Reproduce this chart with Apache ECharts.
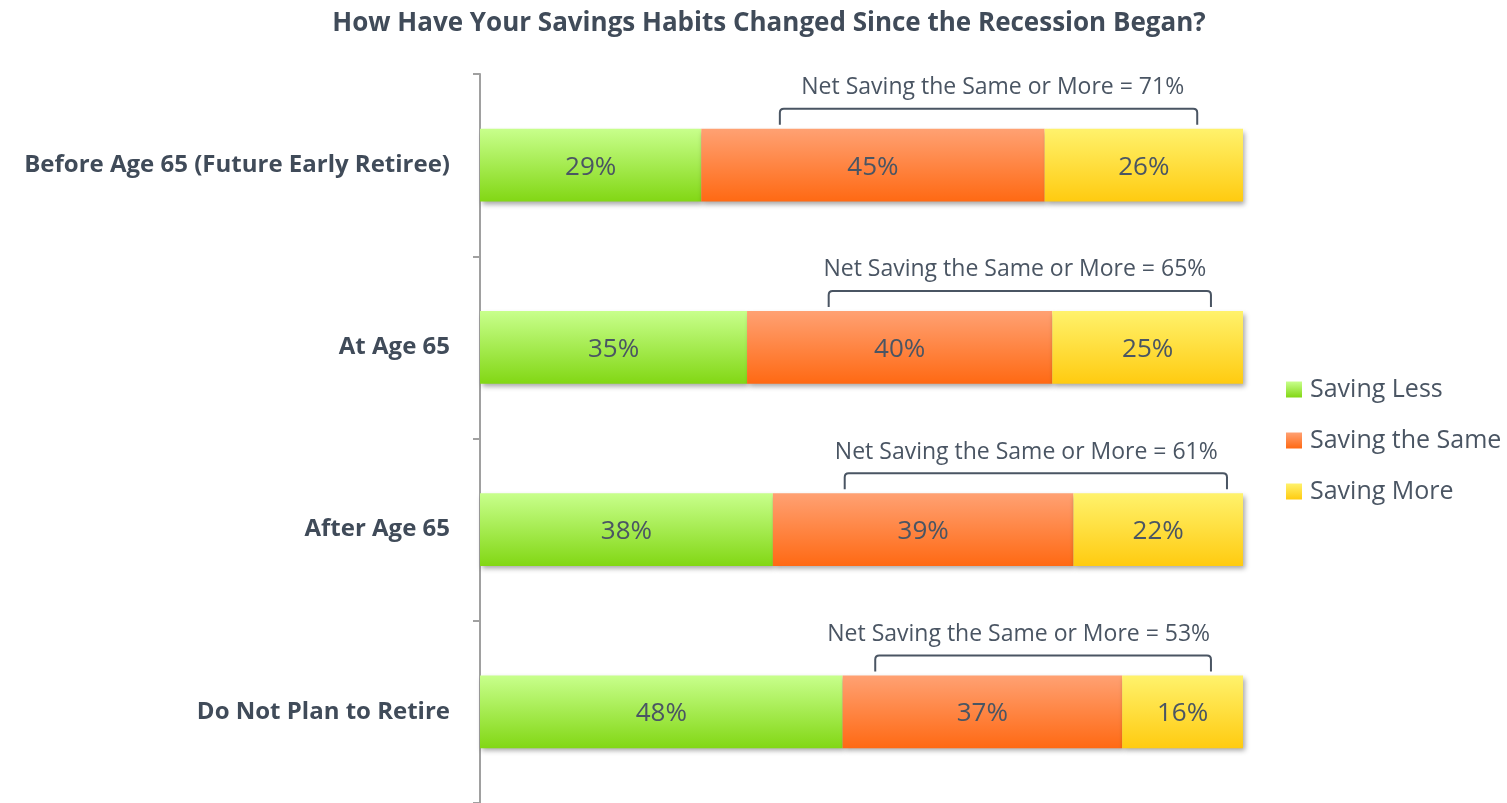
<!DOCTYPE html>
<html>
<head>
<meta charset="utf-8">
<script src="https://cdn.jsdelivr.net/npm/echarts@6/dist/echarts.min.js"></script>
<style>
html,body{margin:0;padding:0;background:#fff;}
#chart{width:1507px;height:803px;}
</style>
</head>
<body>
<div id="chart"></div>
<script>
const categories = ['Before Age 65 (Future Early Retiree)', 'At Age 65', 'After Age 65', 'Do Not Plan to Retire'];
const seriesNames = ['Saving Less', 'Saving the Same', 'Saving More'];
const savingLess = [29, 35, 38, 48];
const savingSame = [45, 40, 39, 37];
const savingMore = [26, 25, 22, 16];
const netTotals = [71, 65, 61, 53];
// bracket extents and note centres, in percent of the bar length
const bracketStart = [39.3, 45.7, 47.8, 51.8];
const bracketEnd = [94.0, 95.8, 97.9, 95.8];
const noteCenter = [67.2, 70.1, 71.6, 70.6];

const raw = [savingLess, savingSame, savingMore];
const rowSums = categories.map((c, i) => raw.reduce((s, arr) => s + arr[i], 0));

const FONT = "'Open Sans', sans-serif";
const TXT = '#4a5563';

function grad(top, bottom) {
  return new echarts.graphic.LinearGradient(0, 0, 0, 1, [
    { offset: 0, color: top }, { offset: 1, color: bottom }
  ]);
}
const colors = [
  grad('#c8ff8c', '#82d714'),
  grad('#ffa173', '#ff6913'),
  grad('#fff26c', '#ffcb10')
];

const barSeries = raw.map((arr, si) => ({
  name: seriesNames[si],
  type: 'bar',
  stack: 'total',
  barCategoryGap: '60%',
  data: arr.map((v, i) => v / rowSums[i] * 100),
  itemStyle: {
    color: colors[si],
    shadowColor: 'rgba(0,0,0,0.35)',
    shadowBlur: 5,
    shadowOffsetX: 2,
    shadowOffsetY: 3
  },
  label: {
    show: true,
    position: 'inside',
    offset: [0, 2],
    color: TXT,
    fontFamily: FONT,
    fontSize: 26,
    formatter: p => raw[si][p.dataIndex] + '%'
  },
  emphasis: { disabled: true }
}));

const noteData = categories.map((c, i) => [bracketStart[i], bracketEnd[i], i, noteCenter[i], netTotals[i]]);

const noteSeries = {
  type: 'custom',
  silent: true,
  encode: { x: [0, 1], y: 2 },
  data: noteData,
  z: 5,
  renderItem: function (params, api) {
    const s = api.coord([api.value(0), api.value(2)]);
    const e = api.coord([api.value(1), api.value(2)]);
    const tc = api.coord([api.value(3), api.value(2)]);
    const band = api.size([0, 1])[1];
    const barTop = s[1] - band * 0.4 / 2;
    const yLine = barTop - 20;
    const yEnd = barTop - 4;
    const r = 4;
    const x1 = s[0], x2 = e[0];
    const path = 'M' + x1 + ' ' + yEnd +
      ' L' + x1 + ' ' + (yLine + r) +
      ' Q' + x1 + ' ' + yLine + ' ' + (x1 + r) + ' ' + yLine +
      ' L' + (x2 - r) + ' ' + yLine +
      ' Q' + x2 + ' ' + yLine + ' ' + x2 + ' ' + (yLine + r) +
      ' L' + x2 + ' ' + yEnd;
    return {
      type: 'group',
      children: [
        {
          type: 'path',
          shape: { pathData: path },
          style: { fill: null, stroke: TXT, lineWidth: 2 }
        },
        {
          type: 'text',
          style: {
            x: tc[0], y: barTop - 41,
            text: 'Net Saving the Same or More = ' + api.value(4) + '%',
            fill: TXT,
            font: '23px ' + FONT,
            textAlign: 'center',
            textVerticalAlign: 'middle'
          }
        }
      ]
    };
  }
};

const chart = echarts.init(document.getElementById('chart'));
chart.setOption({
  backgroundColor: '#ffffff',
  animation: false,
  title: {
    text: 'How Have Your Savings Habits Changed Since the Recession Began?',
    left: 764,
    textAlign: 'center',
    top: 6,
    textStyle: { fontFamily: FONT, fontSize: 26, fontWeight: 'bold', color: '#404b59' }
  },
  legend: {
    data: seriesNames,
    orient: 'vertical',
    left: 1281,
    top: 372,
    itemWidth: 16,
    itemHeight: 16,
    itemGap: 26,
    icon: 'rect',
    textStyle: { fontFamily: FONT, fontSize: 25, color: TXT, padding: [0, 0, 0, 3] }
  },
  grid: { left: 480, top: 74, width: 763, height: 732, containLabel: false },
  xAxis: {
    type: 'value', min: 0, max: 100, show: false
  },
  yAxis: {
    type: 'category',
    data: categories,
    inverse: true,
    axisLine: { show: true, lineStyle: { color: '#a0a0a0', width: 2 } },
    axisTick: { show: true, length: 7, lineStyle: { color: '#a0a0a0', width: 2 } },
    axisLabel: {
      margin: 30,
      fontFamily: FONT,
      fontSize: 24,
      fontWeight: 'bold',
      color: '#404b59'
    }
  },
  series: barSeries.concat([noteSeries])
});
</script>
</body>
</html>
